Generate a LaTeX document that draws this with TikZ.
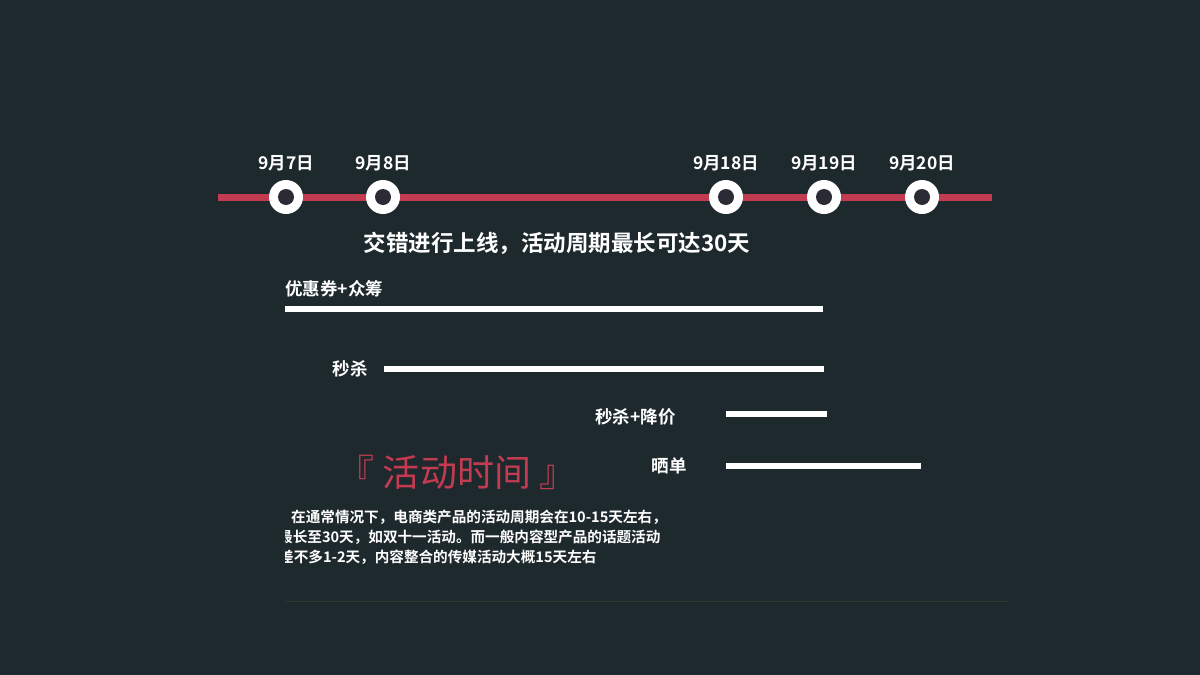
\documentclass[tikz,border=0pt]{standalone}
\usepackage{fontspec}
\newfontfamily\cjk{Noto Sans CJK SC}[BoldFont={* Bold}]
\definecolor{bg}{HTML}{1E292D}
\definecolor{tred}{HTML}{C23B50}
\definecolor{dotc}{HTML}{2B2B36}
\definecolor{rul}{HTML}{2E3A30}
\tikzset{
  lbl/.style={text=white,font=\cjk\bfseries\fontsize{17.5}{20}\selectfont,inner sep=0pt},
  para/.style={text=white,font=\cjk\bfseries\fontsize{14.6}{20}\selectfont,anchor=west,inner sep=0pt},
  bar/.style={draw=white,line width=6pt},
  ring/.style={circle,fill=white,minimum size=34pt,inner sep=0pt},
  dot/.style={circle,fill=dotc,minimum size=16pt,inner sep=0pt}
}
\begin{document}
\begin{tikzpicture}[x=1pt,y=-1pt]
\fill[bg] (0,0) rectangle (1200,675);
\useasboundingbox (0,0) rectangle (1200,675);
\coordinate (ls) at (218,197); \coordinate (le) at (992,197);
\draw[tred,line width=7pt] (ls) -- (le);
\foreach \n/\x/\t in {a/286/9月7日,b/383/9月8日,c/726/9月18日,d/824/9月19日,e/922/9月20日}{
  \node[ring] (r\n) at (\x,197) {};
  \node[dot] at (r\n) {};
  \node[lbl] at (\x,163) {\t};
}
\node[text=white,font=\cjk\bfseries\fontsize{22.5}{26}\selectfont,inner sep=0pt] (h) at (557,243) {交错进行上线，活动周期最长可达30天};
\node[lbl,anchor=west] (l1) at (285,289) {优惠券+众筹};
\coordinate (b1s) at (285,309); \coordinate (b1e) at (823,309);
\draw[bar] (b1s) -- (b1e);
\node[lbl,anchor=east] (l2) at (368,369) {秒杀};
\coordinate (b2s) at (384,369); \coordinate (b2e) at (824,369);
\draw[bar] (b2s) -- (b2e);
\node[lbl,anchor=east] (l3) at (676,417) {秒杀+降价};
\coordinate (b3s) at (726,414); \coordinate (b3e) at (827,414);
\draw[bar] (b3s) -- (b3e);
\node[lbl,anchor=east] (l4) at (687,466) {晒单};
\coordinate (b4s) at (726,466); \coordinate (b4e) at (921,466);
\draw[bar] (b4s) -- (b4e);
\node[text=tred,font=\cjk\fontsize{37}{40}\selectfont,inner sep=0pt] (t) at (457,472) {『 活动时间 』};
\begin{scope}
\clip (285,500) rectangle (700,575);
\node[para] (p) at (291,517) {在通常情况下，电商类产品的活动周期会在10-15天左右，};
\node[para] (p2) at (278,537) {最长至30天，如双十一活动。而一般内容型产品的话题活动};
\node[para] (p3) at (279,557) {差不多1-2天，内容整合的传媒活动大概15天左右};
\end{scope}
\coordinate (rs) at (285,601); \coordinate (re) at (1007,601);
\draw[rul,line width=1pt] (rs) -- (re);
\end{tikzpicture}
\end{document}
